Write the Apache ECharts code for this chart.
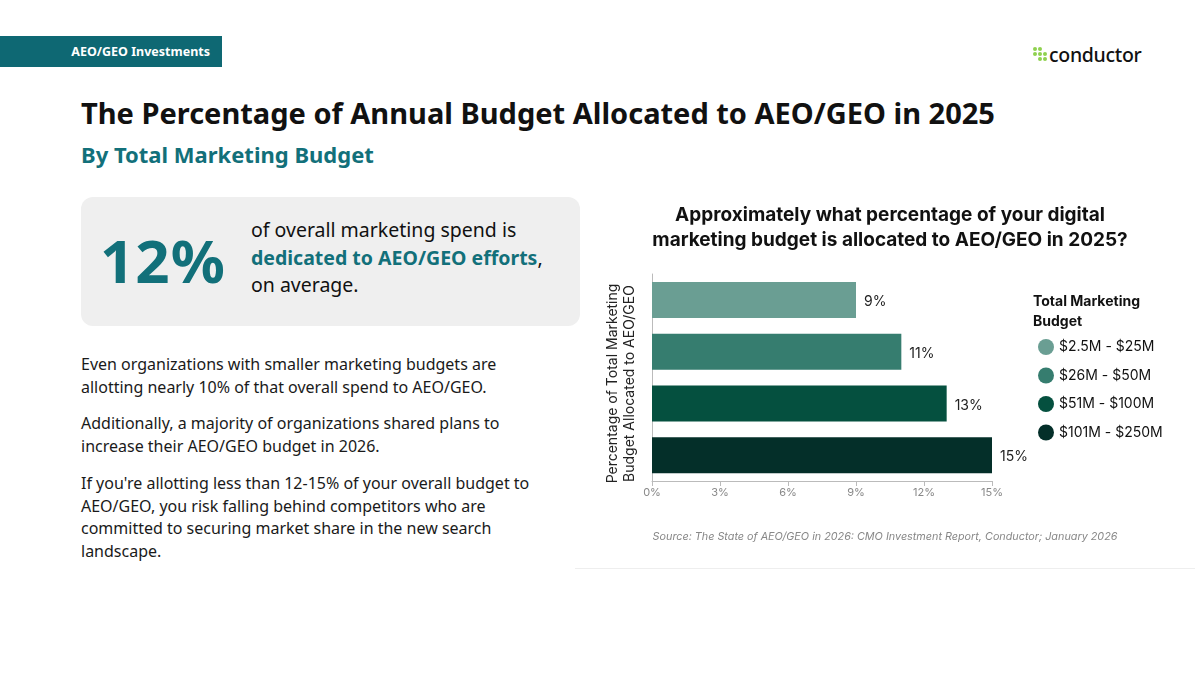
<!DOCTYPE html>
<html>
<head>
<meta charset="utf-8">
<script src="https://cdn.jsdelivr.net/npm/echarts@6/dist/echarts.min.js"></script>
<style>
  body { margin: 0; width: 1200px; height: 675px; background: #fff; position: relative; overflow: hidden; font-family: "Noto Sans", sans-serif; color: #1a1a1a; }
  .tag { position: absolute; left: 0; top: 36px; width: 222px; height: 31px; background: #0e6873; color: #fff; font: bold 12.5px "Noto Sans", sans-serif; line-height: 31px; text-align: right; box-sizing: border-box; padding-right: 12px; }
  .logo { position: absolute; left: 1033px; top: 42px; height: 26px; }
  .logo .dot { position: absolute; width: 4px; height: 4px; border-radius: 2px; background: #8fd14f; }
  .logo .word { position: absolute; left: 16px; top: 0; font: 500 19.5px "Noto Sans", sans-serif; color: #111; line-height: 26px; letter-spacing: -0.3px; }
  h1 { position: absolute; left: 81px; top: 93px; margin: 0; font: bold 29px "Noto Sans", sans-serif; color: #111; white-space: nowrap; }
  h2 { position: absolute; left: 81px; top: 139px; margin: 0; font: bold 22px "Noto Sans", sans-serif; color: #12707a; white-space: nowrap; }
  .card { position: absolute; left: 81px; top: 197px; width: 499px; height: 129px; background: #efefef; border-radius: 12px; }
  .big { position: absolute; left: 19px; top: 22px; font: bold 60px "Noto Sans", sans-serif; color: #12707a; letter-spacing: 1px; }
  .cardtxt { position: absolute; left: 170px; top: 19px; font: 19.5px "Noto Sans", sans-serif; line-height: 27.5px; color: #111; white-space: nowrap; }
  .cardtxt b { color: #12707a; }
  .para { position: absolute; left: 81px; font: 16px "Noto Sans", sans-serif; line-height: 22.6px; color: #1a1a1a; margin: 0; white-space: nowrap; }
  #chart { position: absolute; left: 575px; top: 190px; width: 620px; height: 378px; border-bottom: 1px solid #eeeeee; }
</style>
</head>
<body>
<div class="tag">AEO/GEO Investments</div>
<div class="logo">
  <div class="dot" style="left:0;top:5px"></div><div class="dot" style="left:5px;top:5px"></div>
  <div class="dot" style="left:0;top:10px"></div><div class="dot" style="left:5px;top:10px"></div><div class="dot" style="left:10px;top:10px"></div>
  <div class="dot" style="left:5px;top:15px"></div><div class="dot" style="left:10px;top:15px"></div>
  <div class="word">conductor</div>
</div>
<h1>The Percentage of Annual Budget Allocated to AEO/GEO in 2025</h1>
<h2>By Total Marketing Budget</h2>
<div class="card">
  <div class="big">12%</div>
  <div class="cardtxt">of overall marketing spend is<br><b>dedicated to AEO/GEO efforts</b>,<br>on average.</div>
</div>
<p class="para" style="top:353px">Even organizations with smaller marketing budgets are<br>allotting nearly 10% of that overall spend to AEO/GEO.</p>
<p class="para" style="top:412px">Additionally, a majority of organizations shared plans to<br>increase their AEO/GEO budget in 2026.</p>
<p class="para" style="top:472px">If you're allotting less than 12-15% of your overall budget to<br>AEO/GEO, you risk falling behind competitors who are<br>committed to securing market share in the new search<br>landscape.</p>
<div id="chart"></div>
<script>
const budgets = ['$2.5M - $25M', '$26M - $50M', '$51M - $100M', '$101M - $250M'];
const shares = [9, 11, 13, 15];
const colors = ['#6a9e93', '#367d6f', '#05503f', '#042f29'];
const ticks = [0, 3, 6, 9, 12, 15];

const chart = echarts.init(document.getElementById('chart'));
chart.setOption({
  animation: false,
  textStyle: { fontFamily: 'Inter, sans-serif' },
  title: [
    {
      text: 'Approximately what percentage of your digital\nmarketing budget is allocated to AEO/GEO in 2025?',
      left: 310, top: 8, textAlign: 'center',
      textStyle: { fontSize: 19, fontWeight: 'bold', lineHeight: 25, color: '#111', fontFamily: 'Inter, sans-serif' }
    },
    {
      text: 'Total Marketing\nBudget',
      left: 453, top: 97,
      textStyle: { fontSize: 14, fontWeight: 'bold', lineHeight: 20, color: '#111', fontFamily: 'Inter, sans-serif' }
    },
    {
      text: 'Source: The State of AEO/GEO in 2026: CMO Investment Report, Conductor; January 2026',
      left: 305, top: 336, textAlign: 'center',
      textStyle: { fontSize: 10.8, fontStyle: 'italic', fontWeight: 'normal', color: '#888', fontFamily: 'Inter, sans-serif' }
    }
  ],
  legend: {
    orient: 'vertical', left: 458, top: 144,
    icon: 'circle', itemWidth: 16, itemHeight: 16, itemGap: 12.5,
    data: budgets,
    textStyle: { fontSize: 14, color: '#111' }
  },
  grid: { left: 77, top: 84, width: 340, height: 207, containLabel: false },
  xAxis: {
    type: 'value', min: 0, max: 15, interval: 3,
    axisLine: { show: true, lineStyle: { color: '#bbb' } },
    axisTick: { show: true, length: 5, lineStyle: { color: '#bbb' } },
    splitLine: { show: false },
    axisLabel: { formatter: v => ticks.includes(v) ? v + '%' : '', color: '#888', fontSize: 11, margin: 6 }
  },
  yAxis: {
    type: 'category', data: budgets, inverse: true,
    axisLine: { show: true, lineStyle: { color: '#bbb' } },
    axisTick: { show: false },
    axisLabel: { show: false },
    name: 'Percentage of Total Marketing\nBudget Allocated to AEO/GEO',
    nameLocation: 'middle', nameGap: 14, nameRotate: 90,
    nameTextStyle: { fontSize: 14, lineHeight: 17, color: '#222', padding: [0, 12, 0, 0] }
  },
  series: budgets.map((b, i) => ({
    name: b, type: 'bar', stack: 'all', barWidth: 36,
    itemStyle: { color: colors[i] },
    data: budgets.map((_, j) => j === i ? shares[i] : null),
    label: { show: true, position: 'right', distance: 8, formatter: '{c}%', fontSize: 14, color: '#222', offset: [0, 2] }
  }))
});
</script>
</body>
</html>
